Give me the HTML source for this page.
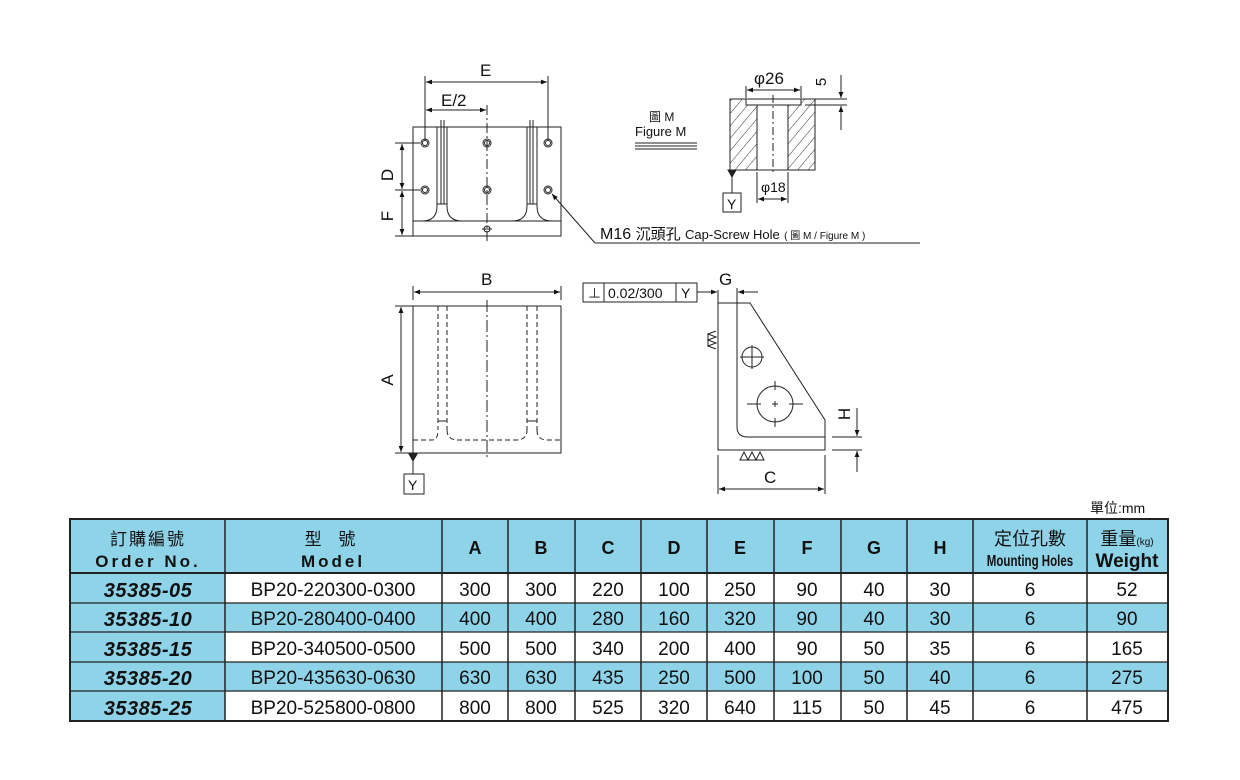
<!DOCTYPE html>
<html><head><meta charset="utf-8"><style>
html,body{margin:0;padding:0;background:#fff;width:1240px;height:780px;overflow:hidden}
svg{display:block}
text{font-family:"Liberation Sans","Noto Sans CJK TC",sans-serif;fill:#111}
</style></head><body>
<svg width="1240" height="780" viewBox="0 0 1240 780" xmlns="http://www.w3.org/2000/svg">
<defs>
<marker id="ar" viewBox="0 0 10 10" refX="10" refY="5" markerWidth="9" markerHeight="6" orient="auto-start-reverse"><path d="M0,1 L10,5 L0,9z" fill="#111"/></marker>
<pattern id="hatch" width="8" height="8" patternUnits="userSpaceOnUse" patternTransform="rotate(40)"><line x1="0" y1="0" x2="0" y2="8" stroke="#333" stroke-width="1"/></pattern>
</defs>
<g stroke="#222" stroke-width="1" fill="none">
<rect x="413" y="127" width="148" height="109"/>
<line x1="413" y1="221" x2="561" y2="221"/>
<path d="M437,127 V206 Q437,221 422,221"/>
<path d="M447,127 V206 Q447,221 462,221 H512 Q527,221 527,206 V127"/>
<path d="M537,127 V206 Q537,221 552,221"/>
<line x1="441" y1="120" x2="441" y2="204"/><line x1="444" y1="120" x2="444" y2="204"/>
<line x1="437" y1="204" x2="447" y2="204"/>
<line x1="530" y1="120" x2="530" y2="204"/><line x1="533" y1="120" x2="533" y2="204"/>
<line x1="527" y1="204" x2="537" y2="204"/>
<line x1="487" y1="105" x2="487" y2="243" stroke-dasharray="10,3,2,3"/>
<g>
<circle cx="425" cy="143" r="4"/><circle cx="425" cy="143" r="2.5"/>
<circle cx="487" cy="143" r="4"/><circle cx="487" cy="143" r="2.5"/>
<circle cx="548" cy="143" r="4"/><circle cx="548" cy="143" r="2.5"/>
<circle cx="425" cy="190" r="4"/><circle cx="425" cy="190" r="2.5"/>
<circle cx="487" cy="190" r="4"/><circle cx="487" cy="190" r="2.5"/>
<circle cx="548" cy="190" r="4"/><circle cx="548" cy="190" r="2.5"/>
<circle cx="487" cy="229" r="3"/><line x1="482" y1="229" x2="492" y2="229"/>
</g>
<line x1="425" y1="76" x2="425" y2="140"/><line x1="548" y1="76" x2="548" y2="140"/>
<line x1="426" y1="82" x2="547" y2="82" marker-start="url(#ar)" marker-end="url(#ar)"/>
<line x1="426" y1="110" x2="486" y2="110" marker-start="url(#ar)" marker-end="url(#ar)"/>
<line x1="395" y1="143" x2="420" y2="143"/><line x1="395" y1="190" x2="420" y2="190"/><line x1="395" y1="236" x2="413" y2="236"/>
<line x1="402" y1="144" x2="402" y2="189" marker-start="url(#ar)" marker-end="url(#ar)"/>
<line x1="402" y1="191" x2="402" y2="235" marker-start="url(#ar)" marker-end="url(#ar)"/>
<line x1="552" y1="194" x2="595" y2="243" marker-start="url(#ar)"/>
<line x1="595" y1="243" x2="920" y2="243"/>
<rect x="730" y="99" width="27" height="71" fill="url(#hatch)"/>
<rect x="788" y="99" width="27" height="71" fill="url(#hatch)"/>
<rect x="746" y="99" width="55" height="6" fill="#fff"/>
<rect x="730" y="99" width="85" height="71"/>
<line x1="746" y1="99" x2="746" y2="105"/><line x1="801" y1="99" x2="801" y2="105"/>
<line x1="746" y1="105" x2="801" y2="105"/>
<line x1="757" y1="105" x2="757" y2="170"/><line x1="788" y1="105" x2="788" y2="170"/>
<line x1="773" y1="95" x2="773" y2="172" stroke-dasharray="8,3,2,3"/>
<line x1="746" y1="86" x2="746" y2="98"/><line x1="801" y1="86" x2="801" y2="98"/>
<line x1="747" y1="90" x2="800" y2="90" marker-start="url(#ar)" marker-end="url(#ar)"/>
<line x1="805" y1="99" x2="847" y2="99"/><line x1="805" y1="105" x2="847" y2="105"/>
<line x1="841" y1="75" x2="841" y2="98" marker-end="url(#ar)"/>
<line x1="841" y1="130" x2="841" y2="106" marker-end="url(#ar)"/>
<line x1="757" y1="172" x2="757" y2="203"/><line x1="788" y1="172" x2="788" y2="203"/>
<line x1="758" y1="199" x2="787" y2="199" marker-start="url(#ar)" marker-end="url(#ar)"/>
<line x1="732" y1="170" x2="732" y2="193"/>
<path d="M728,170 L736,170 L732,177z" fill="#222"/>
<rect x="723" y="193" width="18" height="19"/>
<line x1="635" y1="143" x2="697" y2="143"/><line x1="635" y1="146" x2="697" y2="146"/><line x1="635" y1="149" x2="697" y2="149"/>
<rect x="413" y="306" width="148" height="147"/>
<g stroke-dasharray="5,3">
<line x1="438" y1="306" x2="438" y2="430"/><line x1="447" y1="306" x2="447" y2="430"/>
<line x1="527" y1="306" x2="527" y2="430"/><line x1="537" y1="306" x2="537" y2="430"/>
<path d="M413,440 H432 Q438,440 438,430"/>
<path d="M447,430 Q447,440 458,440 H516 Q527,440 527,430"/>
<path d="M537,430 Q537,440 547,440 H561"/>
</g>
<line x1="438" y1="421" x2="447" y2="421"/><line x1="527" y1="421" x2="537" y2="421"/>
<line x1="487" y1="300" x2="487" y2="460" stroke-dasharray="12,3,2,3"/>
<line x1="413" y1="286" x2="413" y2="300"/><line x1="561" y1="286" x2="561" y2="300"/>
<line x1="414" y1="292" x2="560" y2="292" marker-start="url(#ar)" marker-end="url(#ar)"/>
<line x1="395" y1="306" x2="413" y2="306"/><line x1="395" y1="453" x2="413" y2="453"/>
<line x1="401" y1="307" x2="401" y2="452" marker-start="url(#ar)" marker-end="url(#ar)"/>
<line x1="413" y1="453" x2="413" y2="474"/>
<path d="M409,454 L417,454 L413,461z" fill="#222"/>
<rect x="404" y="474" width="20" height="20"/>
<path d="M718,303 H750 L825,420 V450 H718 Z"/>
<path d="M737,303 V427 Q737,437 748,437 H825"/>
<circle cx="752" cy="357" r="10"/>
<line x1="740" y1="357" x2="764" y2="357"/><line x1="752" y1="345" x2="752" y2="369"/>
<circle cx="775" cy="404" r="18"/>
<line x1="747" y1="404" x2="761" y2="404"/><line x1="789" y1="404" x2="803" y2="404"/>
<line x1="775" y1="381" x2="775" y2="390"/><line x1="775" y1="418" x2="775" y2="427"/>
<line x1="772" y1="404" x2="778" y2="404"/><line x1="775" y1="401" x2="775" y2="407"/>
<path d="M716,331 L708,334 L716,337 L708,340 L716,343 L708,346 L716,349 M708,334 V346"/>
<path d="M740,460 L744,452 L748,460 L752,452 L756,460 L760,452 L764,460 Z"/>
<rect x="583" y="283" width="114" height="19"/>
<line x1="604" y1="283" x2="604" y2="302"/><line x1="676" y1="283" x2="676" y2="302"/>
<line x1="697" y1="292" x2="717" y2="292" marker-end="url(#ar)"/>
<line x1="718" y1="290" x2="718" y2="303"/><line x1="737" y1="288" x2="737" y2="303"/>
<line x1="758" y1="292" x2="738" y2="292" marker-end="url(#ar)"/>
<line x1="718" y1="455" x2="718" y2="494"/><line x1="825" y1="455" x2="825" y2="494"/>
<line x1="719" y1="489" x2="824" y2="489" marker-start="url(#ar)" marker-end="url(#ar)"/>
<line x1="832" y1="437" x2="862" y2="437"/><line x1="832" y1="450" x2="862" y2="450"/>
<line x1="857" y1="408" x2="857" y2="436" marker-end="url(#ar)"/>
<line x1="857" y1="472" x2="857" y2="451" marker-end="url(#ar)"/>
</g>
<g font-size="17">
<text x="480" y="76">E</text>
<text x="441" y="106">E/2</text>
<text x="393" y="175" transform="rotate(-90 393 175)" text-anchor="middle">D</text>
<text x="393" y="216" transform="rotate(-90 393 216)" text-anchor="middle">F</text>
<text x="754" y="84">φ26</text>
<text x="826" y="82" transform="rotate(-90 826 82)" text-anchor="middle" font-size="15">5</text>
<text x="761" y="192" font-size="14">φ18</text>
<text x="727" y="209" font-size="14">Y</text>
<text x="481" y="285">B</text>
<text x="393" y="380" transform="rotate(-90 393 380)" text-anchor="middle">A</text>
<text x="408" y="490" font-size="14">Y</text>
<text x="719" y="285">G</text>
<text x="764" y="483">C</text>
<text x="850" y="414" transform="rotate(-90 850 414)" text-anchor="middle">H</text>
</g>
<text x="649" y="121" font-size="12">圖 M</text>
<text x="635" y="136" font-size="13">Figure M</text>
<text x="600" y="239" font-size="16">M16 <tspan font-size="15">沉頭孔</tspan> <tspan font-size="13">Cap-Screw Hole</tspan> <tspan font-size="10">( 圖 M / Figure M )</tspan></text>
<text x="588" y="298" font-size="13">⊥</text>
<text x="608" y="298" font-size="14">0.02/300</text>
<text x="681" y="298" font-size="14">Y</text>
<text x="1090" y="513" font-size="14">單位:mm</text>
<g>
<rect x="70" y="519" width="1098" height="54" fill="#8ed3e8"/>
<rect x="70" y="573" width="155" height="148" fill="#8ed3e8"/>
<rect x="225" y="603" width="943" height="29" fill="#8ed3e8"/>
<rect x="225" y="662" width="943" height="29" fill="#8ed3e8"/>
<g stroke="#222" stroke-width="2" fill="none">
<rect x="70" y="519" width="1098" height="202"/>
<line x1="70" y1="573" x2="1168" y2="573"/>
<line x1="70" y1="603" x2="1168" y2="603" stroke-width="1.2"/>
<line x1="70" y1="632" x2="1168" y2="632" stroke-width="1.2"/>
<line x1="70" y1="662" x2="1168" y2="662" stroke-width="1.2"/>
<line x1="70" y1="691" x2="1168" y2="691" stroke-width="1.2"/>
<g stroke-width="1.5">
<line x1="225" y1="519" x2="225" y2="721"/><line x1="442" y1="519" x2="442" y2="721"/>
<line x1="508" y1="519" x2="508" y2="721"/><line x1="575" y1="519" x2="575" y2="721"/>
<line x1="641" y1="519" x2="641" y2="721"/><line x1="707" y1="519" x2="707" y2="721"/>
<line x1="774" y1="519" x2="774" y2="721"/><line x1="841" y1="519" x2="841" y2="721"/>
<line x1="907" y1="519" x2="907" y2="721"/><line x1="973" y1="519" x2="973" y2="721"/>
<line x1="1087" y1="519" x2="1087" y2="721"/>
</g>
</g>
<g text-anchor="middle">
<text x="148" y="545" font-size="17" letter-spacing="2">訂購編號</text>
<text x="148" y="567" font-size="17" font-weight="bold" letter-spacing="3">Order No.</text>
<text x="333" y="545" font-size="17" letter-spacing="6">型 號</text>
<text x="333" y="567" font-size="17" font-weight="bold" letter-spacing="3">Model</text>
<g font-size="18" font-weight="bold">
<text x="475" y="554">A</text><text x="541" y="554">B</text><text x="608" y="554">C</text>
<text x="674" y="554">D</text><text x="740" y="554">E</text><text x="807" y="554">F</text>
<text x="874" y="554">G</text><text x="940" y="554">H</text>
</g>
<text x="1030" y="545" font-size="18">定位孔數</text>
<text x="1030" y="566" font-size="16" font-weight="bold" fill="#222" transform="translate(1030 0) scale(0.72 1) translate(-1030 0)">Mounting Holes</text>
<text x="1127" y="545" font-size="18">重量<tspan font-size="10">(kg)</tspan></text>
<text x="1127" y="567" font-size="19" font-weight="bold">Weight</text>
</g>
<g font-size="19" text-anchor="middle">
<g font-weight="bold" font-style="italic" font-size="20" letter-spacing="0.5">
<text x="148" y="597">35385-05</text><text x="148" y="626">35385-10</text><text x="148" y="656">35385-15</text><text x="148" y="685">35385-20</text><text x="148" y="715">35385-25</text>
</g>
<text x="333" y="596">BP20-220300-0300</text><text x="333" y="625">BP20-280400-0400</text><text x="333" y="655">BP20-340500-0500</text><text x="333" y="684">BP20-435630-0630</text><text x="333" y="714">BP20-525800-0800</text>
<text x="475" y="596">300</text><text x="475" y="625">400</text><text x="475" y="655">500</text><text x="475" y="684">630</text><text x="475" y="714">800</text>
<text x="541" y="596">300</text><text x="541" y="625">400</text><text x="541" y="655">500</text><text x="541" y="684">630</text><text x="541" y="714">800</text>
<text x="608" y="596">220</text><text x="608" y="625">280</text><text x="608" y="655">340</text><text x="608" y="684">435</text><text x="608" y="714">525</text>
<text x="674" y="596">100</text><text x="674" y="625">160</text><text x="674" y="655">200</text><text x="674" y="684">250</text><text x="674" y="714">320</text>
<text x="740" y="596">250</text><text x="740" y="625">320</text><text x="740" y="655">400</text><text x="740" y="684">500</text><text x="740" y="714">640</text>
<text x="807" y="596">90</text><text x="807" y="625">90</text><text x="807" y="655">90</text><text x="807" y="684">100</text><text x="807" y="714">115</text>
<text x="874" y="596">40</text><text x="874" y="625">40</text><text x="874" y="655">50</text><text x="874" y="684">50</text><text x="874" y="714">50</text>
<text x="940" y="596">30</text><text x="940" y="625">30</text><text x="940" y="655">35</text><text x="940" y="684">40</text><text x="940" y="714">45</text>
<text x="1030" y="596">6</text><text x="1030" y="625">6</text><text x="1030" y="655">6</text><text x="1030" y="684">6</text><text x="1030" y="714">6</text>
<text x="1127" y="596">52</text><text x="1127" y="625">90</text><text x="1127" y="655">165</text><text x="1127" y="684">275</text><text x="1127" y="714">475</text>
</g>
</g>
</svg>
</body></html>
